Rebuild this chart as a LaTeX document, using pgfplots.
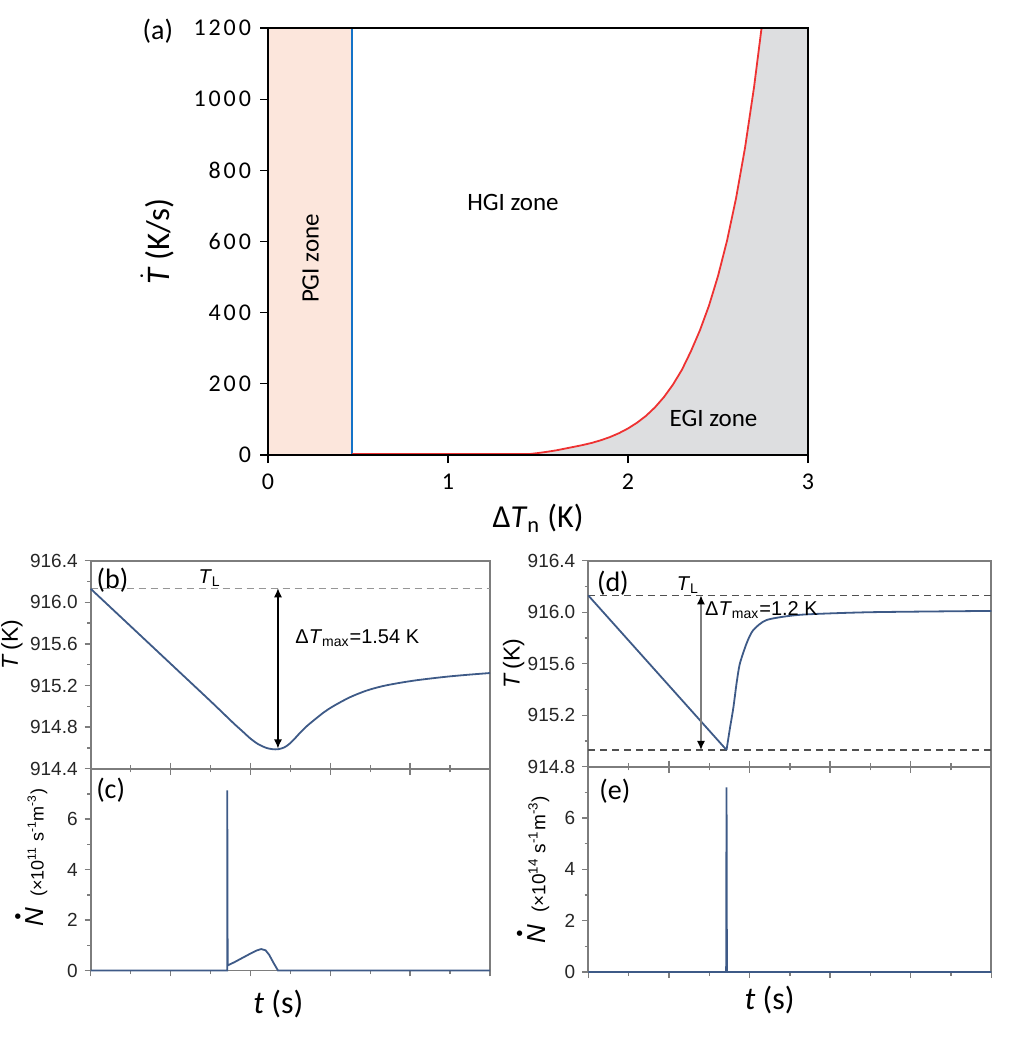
\documentclass[border=0pt]{standalone}
\usepackage{amsmath}
\usepackage{pgfplots}
\pgfplotsset{compat=1.18}
\usepackage{fontspec}
\setmainfont{Carlito}
\newfontfamily\arial{Liberation Sans}
\newfontfamily\tickfont[LetterSpace=12]{Carlito}
\usetikzlibrary{arrows.meta}
\definecolor{pgifill}{RGB}{252,230,220}
\definecolor{blueline}{RGB}{20,115,200}
\definecolor{redline}{RGB}{238,50,50}
\definecolor{egifill}{RGB}{221,222,224}
\definecolor{curve}{RGB}{62,90,135}
\definecolor{axgray}{RGB}{125,125,125}
\definecolor{dashg}{RGB}{150,150,150}
\definecolor{dashd}{RGB}{80,80,80}
\pgfplotsset{
  bottomstyle/.style={
    scale only axis, xmin=0, xmax=10,
    axis line style={axgray, line width=0.9pt},
    tick style={axgray, line width=0.7pt},
    tick align=outside, major tick length=3pt, minor tick length=1.8pt,
    ticklabel style={font=\arial\fontsize{9.5}{11}\selectfont, text=black!85},
    xtick={0,2,4,6,8,10}, minor xtick={1,3,5,7,9}, xticklabels={},
    ytick pos=left, clip=false,
  }
}
\newcommand{\Ndot}{\ensuremath{\overset{\scriptscriptstyle\bullet}{\textit{N}}}}
\begin{document}
\begin{tikzpicture}
\useasboundingbox (0,0) rectangle (504pt,-518.5pt);

% ---------------- (a)
\begin{axis}[at={(134pt,-14pt)}, anchor=north west, scale only axis,
  width=270pt, height=213.5pt,
  xmin=0, xmax=3, ymin=0, ymax=1200,
  xtick={0,1,2,3}, xticklabels={0,1,2,3},
  ytick={0,200,400,600,800,1000,1200},
  yticklabels={0,200,400,600,800,1000,1200},
  tick align=outside, xtick pos=bottom, ytick pos=left,
  major tick length=4pt,
  tick style={black, line width=0.6pt},
  ticklabel style={font=\tickfont\fontsize{12}{14}\selectfont},
  yticklabel style={xshift=-1pt},
  xticklabel style={yshift=-2pt},
  axis line style={black, line width=0.7pt},
  axis on top, clip=false,
  xlabel={Δ\textit{T}\textsubscript{n} (K)},
  xlabel style={at={(axis description cs:0.5,-0.1475)}, anchor=center, font=\fontsize{16}{18}\selectfont},
  ylabel={$\dot{\textit{T}}$ (K/s)},
  ylabel style={at={(axis description cs:-0.205,0.5)}, anchor=center, font=\fontsize{16.5}{19}\selectfont},
]
\addplot[fill=pgifill, draw=none] coordinates {(0,1200) (0.467,1200)} \closedcycle;
\addplot[fill=egifill, draw=none] coordinates {
 (1.458,3) (1.50,5.5) (1.55,9) (1.60,13) (1.65,18) (1.70,23) (1.75,28.2) (1.80,34.2)
 (1.85,41.6) (1.90,50.5) (1.95,61.4) (2.00,74.6) (2.05,90.7) (2.10,110) (2.15,134)
 (2.20,163) (2.25,198) (2.30,240) (2.35,292) (2.40,351) (2.45,420) (2.50,503)
 (2.55,602) (2.60,721) (2.65,863) (2.70,1033) (2.742,1200) (3,1200)} \closedcycle;
\addplot[blueline, line width=0.8pt] coordinates {(0.467,0) (0.467,1200)};
\addplot[redline, line width=0.9pt] coordinates {
 (0.467,3) (1.458,3) (1.50,5.5) (1.55,9) (1.60,13) (1.65,18) (1.70,23) (1.75,28.2) (1.80,34.2)
 (1.85,41.6) (1.90,50.5) (1.95,61.4) (2.00,74.6) (2.05,90.7) (2.10,110) (2.15,134)
 (2.20,163) (2.25,198) (2.30,240) (2.35,292) (2.40,351) (2.45,420) (2.50,503)
 (2.55,602) (2.60,721) (2.65,863) (2.70,1033) (2.742,1200)};
\draw[axgray, line width=0.8pt] (rel axis cs:1,0) -- (rel axis cs:1,1);
\draw[black, line width=1.3pt] (rel axis cs:0,1) -- (rel axis cs:1,1);
\node[font=\fontsize{12.5}{14}\selectfont] at (axis cs:1.361,710) {HGI zone};
\node[font=\fontsize{12.5}{14}\selectfont, rotate=90] at (axis cs:0.236,552) {PGI zone};
\node[font=\fontsize{12.5}{14}\selectfont] at (axis cs:2.475,103) {EGI zone};
\node[font=\fontsize{14}{16}\selectfont] at (axis description cs:-0.204,0.993) {(a)};
\end{axis}

% ---------------- (b)
\begin{axis}[bottomstyle, at={(45.35pt,-280.35pt)}, anchor=north west,
  width=199.65pt, height=104pt,
  ymin=914.4, ymax=916.4,
  ytick={914.4,914.8,915.2,915.6,916.0,916.4},
  yticklabels={914.4,914.8,915.2,915.6,916.0,916.4},
  minor ytick={914.6,915.0,915.4,915.8,916.2},
  xtick pos=bottom,
  ylabel={\textit{T}\,(K)},
  ylabel style={at={(axis description cs:-0.197,0.595)}, anchor=center, font=\arial\fontsize{11.5}{14}\selectfont},
]
\addplot[dashg, line width=0.7pt, dash pattern=on 3.5pt off 2.5pt] coordinates {(0,916.135) (10,916.135)};
\addplot[curve, line width=0.9pt, smooth, tension=0.5] coordinates {
 (0,916.13) (1,915.77) (2,915.41) (3,915.05) (3.57,914.84) (3.8,914.76) (4.0,914.69)
 (4.2,914.635) (4.4,914.60) (4.55,914.588) (4.69,914.587) (4.85,914.605) (4.98,914.64)
 (5.1,914.685) (5.23,914.74) (5.4,914.805) (5.65,914.885) (5.85,914.945) (6.07,915.0)
 (6.48,915.085) (6.9,915.15) (7.3,915.193) (7.73,915.225) (8.15,915.25) (8.57,915.27)
 (9.0,915.288) (9.5,915.305) (10,915.32)};
\addplot[black, line width=0.6pt, {Latex[length=4.5pt,width=4pt]}-{Latex[length=4.5pt,width=4pt]}]
 coordinates {(4.69,916.135) (4.69,914.595)};
\node[font=\arial\fontsize{10}{12}\selectfont] at (axis cs:2.98,916.23) {\textit{T}\textsubscript{L}};
\node[font=\arial\fontsize{10}{12}\selectfont, anchor=west] at (axis cs:4.95,915.654) {Δ\textit{T}\textsubscript{max}=1.54 K};
\node[font=\fontsize{14}{16}\selectfont] at (axis cs:0.546,916.214) {(b)};
\end{axis}

% ---------------- (c)
\begin{axis}[bottomstyle, at={(45.35pt,-384.35pt)}, anchor=north west,
  width=199.65pt, height=100.9pt,
  ymin=0, ymax=8,
  ytick={0,2,4,6}, yticklabels={0,2,4,6}, minor ytick={1,3,5,7},
  xtick pos=both,
  ylabel={{\fontsize{13}{14}\selectfont\Ndot}\,\, (×10\textsuperscript{11} s\textsuperscript{-1}m\textsuperscript{-3})},
  ylabel style={at={(axis description cs:-0.152,0.56)}, anchor=center, font=\arial\fontsize{9}{11}\selectfont},
  xlabel={\textit{t} (s)},
  xlabel style={at={(axis description cs:0.47,-0.165)}, anchor=center, font=\fontsize{16}{18}\selectfont},
]
\addplot[curve, line width=0.9pt] coordinates {
 (0,0) (3.42,0) (3.42,7.14) (3.43,0.2) (3.6,0.33) (3.8,0.5) (4.0,0.67) (4.15,0.79)
 (4.27,0.85) (4.38,0.8) (4.47,0.62) (4.58,0.3) (4.69,0) (10,0)};
\node[font=\fontsize{14}{16}\selectfont] at (axis cs:0.5,7.13) {(c)};
\end{axis}

% ---------------- (d)
\begin{axis}[bottomstyle, at={(294.15pt,-280.35pt)}, anchor=north west,
  width=201.5pt, height=103pt,
  ymin=914.8, ymax=916.4,
  ytick={914.8,915.2,915.6,916.0,916.4},
  yticklabels={914.8,915.2,915.6,916.0,916.4},
  minor ytick={915.0,915.4,915.8,916.2},
  xtick pos=bottom,
  ylabel={\textit{T}\,(K)},
  ylabel style={at={(axis description cs:-0.185,0.5)}, anchor=center, font=\arial\fontsize{11.5}{14}\selectfont},
]
\addplot[dashd, line width=0.7pt, dash pattern=on 3.5pt off 2.5pt] coordinates {(0,916.131) (10,916.131)};
\addplot[dashd, line width=0.7pt, dash pattern=on 3.5pt off 2.5pt] coordinates {(0,914.93) (10,914.93)};
\addplot[curve, line width=0.9pt] coordinates {(0,916.13) (3.43,914.93)};
\addplot[curve, line width=0.9pt, smooth, tension=0.4] coordinates {
 (3.43,914.93) (3.51,915.09) (3.6,915.26) (3.68,915.45) (3.76,915.6) (3.93,915.76)
 (4.09,915.86) (4.43,915.94) (5.26,915.98) (7,916.0) (10,916.01)};
\addplot[axgray, line width=0.7pt, {Latex[length=4.5pt,width=4pt,black]}-{Latex[length=4.5pt,width=4pt,black]}]
 coordinates {(2.796,916.131) (2.796,914.93)};
\node[font=\arial\fontsize{10}{12}\selectfont] at (axis cs:2.47,916.21) {\textit{T}\textsubscript{L}};
\node[font=\arial\fontsize{10}{12}\selectfont, anchor=west, inner sep=1pt] at (axis cs:2.84,916.02) {Δ\textit{T}\textsubscript{max}=1.2 K};
\node[font=\fontsize{14}{16}\selectfont] at (axis cs:0.61,916.227) {(d)};
\end{axis}

% ---------------- (e)
\begin{axis}[bottomstyle, at={(294.15pt,-383.35pt)}, anchor=north west,
  width=201.5pt, height=102.65pt,
  ymin=0, ymax=8,
  ytick={0,2,4,6}, yticklabels={0,2,4,6}, minor ytick={1,3,5,7},
  xtick pos=both,
  ylabel={{\fontsize{13}{14}\selectfont\Ndot}\,\, (×10\textsuperscript{14} s\textsuperscript{-1}m\textsuperscript{-3})},
  ylabel style={at={(axis description cs:-0.14,0.5)}, anchor=center, font=\arial\fontsize{9.5}{11}\selectfont},
  xlabel={\textit{t} (s)},
  xlabel style={at={(axis description cs:0.45,-0.136)}, anchor=center, font=\fontsize{16}{18}\selectfont},
]
\addplot[curve, line width=0.9pt] coordinates {(0,0) (3.42,0) (3.43,7.19) (3.44,0) (10,0)};
\node[font=\fontsize{14}{16}\selectfont] at (axis cs:0.66,7.03) {(e)};
\end{axis}
\end{tikzpicture}
\end{document}
